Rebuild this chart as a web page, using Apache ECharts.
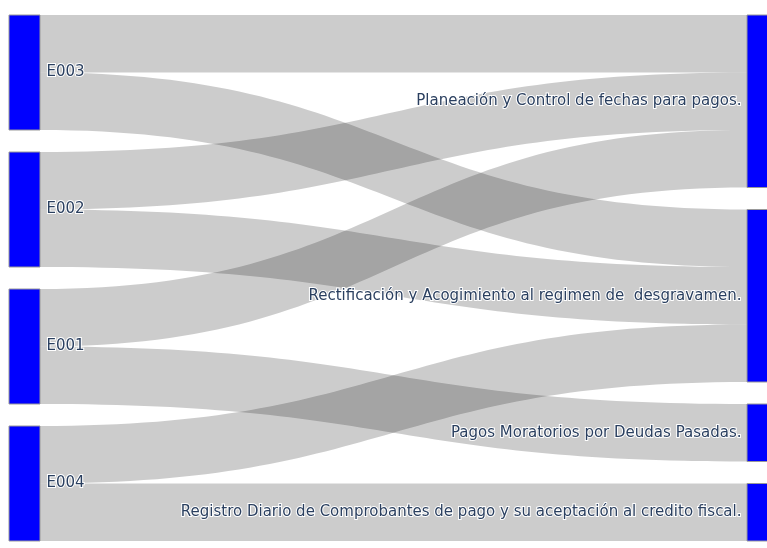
<!DOCTYPE html>
<html>
<head>
<meta charset="utf-8">
<script src="https://cdn.jsdelivr.net/npm/echarts@6/dist/echarts.min.js"></script>
<style>
  html, body { margin: 0; padding: 0; background: #fff; }
  #chart { width: 767px; height: 548px; }
</style>
</head>
<body>
<div id="chart"></div>
<script>
// nodes, in the order they are stacked in each column
const leftNodes = ['E003', 'E002', 'E001', 'E004'];
const rightNodes = [
  'Planeación y Control de fechas para pagos.',
  'Rectificación y Acogimiento al regimen de  desgravamen.',
  'Pagos Moratorios por Deudas Pasadas.',
  'Registro Diario de Comprobantes de pago y su aceptación al credito fiscal.'
];

// links
const linkSource = ['E003', 'E003', 'E002', 'E002', 'E001', 'E001', 'E004', 'E004'];
const linkTarget = [
  rightNodes[0], rightNodes[1],
  rightNodes[0], rightNodes[1],
  rightNodes[0], rightNodes[2],
  rightNodes[1], rightNodes[3]
];
const linkValue = [1, 1, 1, 1, 1, 1, 1, 1];

const labelStyle = {
  fontFamily: 'DejaVu Sans',
  fontSize: 15,
  color: '#2a3f5f',
  textBorderColor: '#fff',
  textBorderWidth: 2
};

const nodes = leftNodes.map(n => ({
  name: n,
  label: Object.assign({ position: 'right', distance: 6 }, labelStyle)
})).concat(rightNodes.map(n => ({
  name: n,
  label: Object.assign({ position: 'left', distance: 5 }, labelStyle)
})));

const links = linkSource.map((s, i) => ({
  source: s,
  target: linkTarget[i],
  value: linkValue[i]
}));

const chart = echarts.init(document.getElementById('chart'));
chart.setOption({
  animation: false,
  series: [{
    type: 'sankey',
    left: 9,
    top: 15,
    width: 769,
    height: 526,
    nodeWidth: 31,
    nodeGap: 22,
    layoutIterations: 0,
    draggable: false,
    emphasis: { disabled: true },
    itemStyle: {
      color: '#0000ff',
      borderColor: '#999',
      borderWidth: 1
    },
    lineStyle: {
      color: '#000',
      opacity: 0.2,
      curveness: 0.5
    },
    data: nodes,
    links: links
  }]
});
</script>
</body>
</html>
